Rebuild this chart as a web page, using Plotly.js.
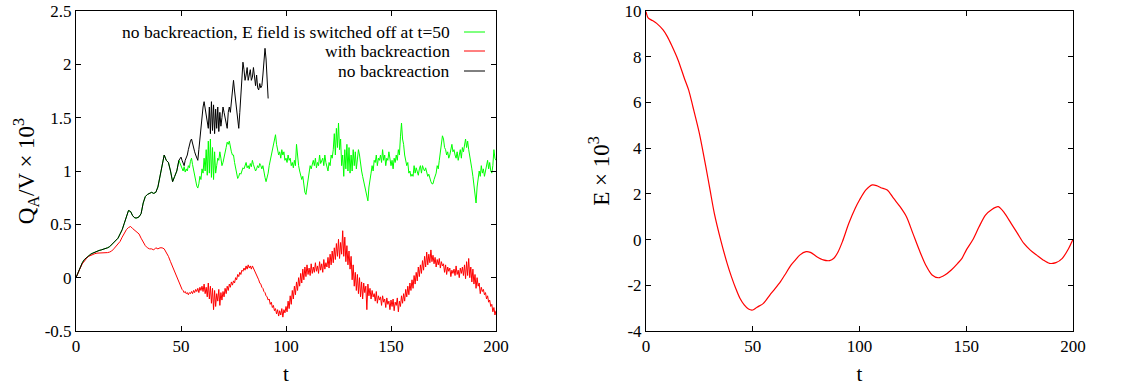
<!DOCTYPE html>
<html>
<head>
<meta charset="utf-8">
<script src="https://cdn.plot.ly/plotly-3.0.1.min.js"></script>
<style>html,body{margin:0;padding:0;background:#fff;}#chart{width:1133px;height:388px;}</style>
</head>
<body>
<div id="chart"></div>
<script>
// ---------- data ----------
// Q_A/V x 10^3, segment 1: t = 0..49 (step 1); segment 2: t = 50..200 (step 0.5)
const redA = [0,0.05,0.09,0.13,0.16,0.18,0.2,0.21,0.22,0.225,
  0.23,0.23,0.23,0.23,0.23,0.235,0.24,0.25,0.27,0.29,
  0.31,0.34,0.38,0.42,0.45,0.47,0.48,0.46,0.44,0.43,
  0.41,0.37,0.33,0.3,0.28,0.27,0.27,0.26,0.28,0.27,
  0.28,0.28,0.27,0.24,0.2,0.15,0.1,0.05,0.0,-0.05];
const redB = [-0.09,-0.11,-0.12,-0.14,-0.13,-0.15,-0.14,-0.16,-0.14,-0.15,
  -0.13,-0.15,-0.12,-0.14,-0.11,-0.13,-0.10,-0.14,-0.09,-0.12,
  -0.08,-0.13,-0.06,-0.15,-0.09,-0.18,-0.05,-0.2,-0.08,-0.24,
  -0.1,-0.3,-0.12,-0.27,-0.15,-0.22,-0.11,-0.26,-0.14,-0.21,
  -0.13,-0.18,-0.1,-0.15,-0.08,-0.12,-0.06,-0.09,-0.04,-0.07,
  -0.03,-0.05,0.0,-0.02,0.03,0.01,0.05,0.03,0.07,0.06,
  0.09,0.07,0.11,0.08,0.12,0.09,0.11,0.08,0.11,0.09,
  0.07,0.05,0.03,0.0,-0.02,-0.05,-0.06,-0.09,-0.1,-0.13,
  -0.14,-0.17,-0.18,-0.21,-0.2,-0.25,-0.23,-0.28,-0.26,-0.31,
  -0.29,-0.34,-0.3,-0.36,-0.31,-0.35,-0.29,-0.37,-0.3,-0.33,
  -0.27,-0.32,-0.22,-0.29,-0.17,-0.25,-0.12,-0.2,-0.08,-0.16,
  -0.04,-0.12,0.0,-0.08,0.04,-0.05,0.08,-0.02,0.1,0.01,
  0.12,0.03,0.09,0.02,0.13,0.04,0.1,0.05,0.14,0.06,
  0.11,0.04,0.15,0.07,0.13,0.05,0.17,0.08,0.14,0.1,
  0.19,0.09,0.22,0.12,0.25,0.14,0.28,0.17,0.32,0.2,
  0.36,0.18,0.33,0.22,0.44,0.2,0.38,0.15,0.3,0.12,
  0.25,0.08,0.2,-0.02,0.12,-0.08,0.05,-0.12,0.03,-0.15,
  0.0,-0.18,-0.04,-0.2,-0.05,-0.14,-0.08,-0.3,-0.06,-0.17,
  -0.1,-0.2,-0.12,-0.18,-0.15,-0.22,-0.13,-0.24,-0.17,-0.21,
  -0.18,-0.26,-0.17,-0.23,-0.2,-0.28,-0.19,-0.25,-0.22,-0.3,
  -0.21,-0.27,-0.2,-0.31,-0.23,-0.26,-0.19,-0.32,-0.22,-0.27,
  -0.17,-0.24,-0.15,-0.22,-0.11,-0.18,-0.08,-0.16,-0.05,-0.12,
  -0.02,-0.1,0.02,-0.06,0.05,-0.03,0.1,0.01,0.12,0.04,
  0.16,0.07,0.2,0.1,0.24,0.12,0.22,0.14,0.26,0.15,
  0.21,0.13,0.19,0.1,0.17,0.12,0.18,0.09,0.15,0.11,
  0.13,0.05,0.12,0.03,0.1,0.06,0.09,0.01,0.07,0.04,
  0.08,0.02,0.11,0.03,0.07,0.0,0.09,0.04,0.1,0.02,
  0.12,-0.01,0.15,0.02,0.18,0.0,0.1,-0.04,0.08,-0.06,
  0.03,-0.1,0.0,-0.08,-0.05,-0.15,-0.09,-0.13,-0.11,-0.16,
  -0.14,-0.2,-0.17,-0.23,-0.21,-0.27,-0.25,-0.32,-0.28,-0.35,
  -0.31];

// no backreaction: t = 0..49 (step 1), then t = 50..91.5 (step 0.5)
const blackA = [0,0.05,0.1,0.14,0.17,0.19,0.21,0.22,0.23,0.24,
  0.25,0.255,0.26,0.265,0.27,0.28,0.29,0.31,0.33,0.35,
  0.37,0.41,0.45,0.51,0.57,0.63,0.62,0.58,0.56,0.56,
  0.57,0.6,0.7,0.76,0.78,0.79,0.8,0.79,0.8,0.85,
  0.95,1.05,1.15,1.1,1.08,1.0,0.9,0.95,1.0,1.1];
const blackB = [1.13,1.1,1.08,1.05,1.1,1.12,1.15,1.2,1.25,1.28,
  1.3,1.25,1.2,1.18,1.15,1.12,1.1,1.2,1.3,1.45,
  1.55,1.6,1.65,1.58,1.5,1.45,1.4,1.6,1.35,1.65,
  1.38,1.62,1.35,1.58,1.4,1.6,1.37,1.55,1.42,1.5,
  1.6,1.55,1.5,1.45,1.4,1.55,1.6,1.55,1.65,1.75,
  1.85,1.75,1.65,1.55,1.45,1.4,1.55,1.7,1.9,2.02,
  1.95,1.85,1.9,1.97,1.85,1.92,1.95,1.85,1.88,1.97,
  1.85,1.8,1.9,1.78,1.76,1.82,1.78,1.8,1.9,2.05,
  2.15,2.05,1.85,1.68];

// E switched off at t=50: identical to blackA before t=50, then t = 50..200 (step 0.5)
const greenB = [1.05,1.03,1.0,1.04,0.99,1.02,1.0,1.05,1.03,1.09,
  1.12,1.06,1.0,0.96,0.9,0.86,0.84,0.88,0.95,0.92,
  1.02,0.98,1.12,1.0,1.2,0.96,1.28,0.98,1.3,0.94,
  1.22,0.92,1.18,0.98,1.05,1.12,1.1,1.18,1.12,1.05,
  1.08,1.12,1.18,1.22,1.27,1.25,1.28,1.22,1.18,1.15,
  1.15,1.08,1.02,0.96,0.93,0.95,0.98,0.97,1.0,1.03,
  1.02,1.06,1.08,1.03,1.05,1.02,1.07,1.04,1.1,1.06,
  1.03,1.0,1.02,1.05,1.03,1.07,1.05,1.02,1.05,0.98,
  0.94,0.9,0.93,0.98,1.05,1.1,1.12,1.18,1.25,1.3,
  1.34,1.25,1.2,1.15,1.18,1.12,1.2,1.15,1.18,1.1,
  1.12,1.08,1.15,1.1,1.12,1.05,1.08,1.03,1.1,1.05,
  1.25,1.1,1.05,1.0,0.97,0.92,0.95,0.85,0.8,0.78,
  0.85,0.9,0.98,1.05,1.02,1.08,1.1,1.05,1.12,1.03,
  1.08,1.05,1.15,1.07,1.1,1.12,1.05,1.15,1.08,1.02,
  1.0,1.08,1.05,1.15,1.12,1.2,1.35,1.15,1.4,1.22,
  1.45,1.2,1.3,1.05,1.15,0.95,1.2,1.02,1.25,1.0,
  1.22,0.98,1.15,1.0,1.2,1.05,1.18,1.02,1.12,1.2,
  1.15,1.05,1.0,0.95,0.9,0.85,0.82,0.75,0.72,0.85,
  0.9,0.98,1.05,1.0,1.1,1.08,1.15,1.05,1.12,1.1,
  1.15,1.08,1.2,1.1,1.15,1.05,1.12,1.1,1.18,1.08,
  1.05,1.1,1.02,1.12,1.08,1.15,1.1,1.2,1.15,1.32,
  1.45,1.3,1.25,1.15,1.1,1.05,1.08,0.98,1.0,0.95,
  0.97,0.95,1.05,0.98,1.03,1.0,0.96,1.02,1.05,0.98,
  1.05,1.02,1.0,1.03,0.98,0.95,0.97,0.92,0.9,0.88,
  0.88,0.92,0.95,0.98,1.05,1.02,1.1,1.2,1.28,1.33,
  1.3,1.22,1.2,1.15,1.18,1.12,1.15,1.2,1.25,1.18,
  1.2,1.15,1.12,1.18,1.1,1.15,1.2,1.12,1.22,1.18,
  1.25,1.3,1.22,1.28,1.2,1.15,1.1,1.02,0.95,0.88,
  0.8,0.7,0.85,0.92,1.0,0.95,1.05,0.98,1.02,0.95,
  1.0,1.05,1.1,1.02,1.08,1.0,0.98,1.05,1.2,1.12,
  1.1];

// E x 10^3
const eT = [0,1,3,5,8,10,12,15,18,20,22,25,28,30,32,35,38,40,42,44,46,48,50,52,55,58,60,63,65,68,
  70,72,75,77,80,83,86,88,90,92,95,98,100,103,106,108,110,113,116,119,122,125,128,131,134,137,140,143,146,148,
  150,153,156,159,162,165,168,171,174,177,180,183,186,189,192,195,198,200];
const eV = [9.97,9.7,9.58,9.46,9.17,8.88,8.5,7.86,7.05,6.54,5.8,4.65,3.2,2.17,1.15,-0.02,-1.04,-1.62,-2.13,-2.57,
  -2.86,-3.04,-3.08,-2.96,-2.79,-2.43,-2.2,-1.84,-1.55,-1.11,-0.89,-0.68,-0.53,-0.56,-0.75,-0.89,-0.92,-0.82,-0.53,-0.09,
  0.71,1.37,1.73,2.17,2.39,2.36,2.27,2.17,1.8,1.44,1.0,0.27,-0.46,-1.11,-1.55,-1.67,-1.55,-1.33,-1.04,-0.82,
  -0.46,-0.02,0.56,1.07,1.32,1.44,1.15,0.71,0.27,-0.17,-0.46,-0.68,-0.89,-1.04,-1.01,-0.82,-0.38,0.01];

const xTicks = [0,50,100,150,200];
const xTickText = ['0','50','100','150','200'];
const yTicks1 = [-0.5,0,0.5,1,1.5,2,2.5];
const yTickText1 = ['-0.5','0','0.5','1','1.5','2','2.5'];
const yTicks2 = [-4,-2,0,2,4,6,8,10];
const yTickText2 = ['-4','-2','0','2','4','6','8','10'];
const legendNames = ['no backreaction, E field is switched off at t=50','with backreaction','no backreaction'];
const colors = ['#00ff00','#ff0000','#000000'];

// ---------- build ----------
function grid(a, b, step){ const o=[]; for(let i=0;a+i*step<=b+1e-9;i++) o.push(+(a+i*step).toFixed(3)); return o; }
const tA = grid(0,49,1);
const tRed = tA.concat(grid(50,200,0.5));
const tBlack = tA.concat(grid(50,91.5,0.5));
const tGreen = tA.concat(grid(50,200,0.5));

const FONT = 'Liberation Serif, Times New Roman, serif';

const traces = [
  {x:tGreen, y:blackA.concat(greenB), type:'scatter', mode:'lines', line:{color:colors[0], width:1}, name:legendNames[0], xaxis:'x', yaxis:'y'},
  {x:tRed, y:redA.concat(redB), type:'scatter', mode:'lines', line:{color:colors[1], width:1}, name:legendNames[1], xaxis:'x', yaxis:'y'},
  {x:tBlack, y:blackA.concat(blackB), type:'scatter', mode:'lines', line:{color:colors[2], width:1}, name:legendNames[2], xaxis:'x', yaxis:'y'},
  {x:eT, y:eV, type:'scatter', mode:'lines', line:{color:'#ff0000', width:1.2, shape:'spline', smoothing:0.8}, name:'E', xaxis:'x2', yaxis:'y2'}
];

const W = 1133, H = 388;
const px = v => v / W, py = v => 1 - v / H;

const axBase = {
  showline:true, linecolor:'#000', linewidth:1, mirror:'allticks',
  ticks:'inside', ticklen:5, tickcolor:'#000', tickwidth:1,
  showgrid:false, zeroline:false, tickmode:'array',
  tickfont:{family:FONT, size:17, color:'#000'}
};

const layout = {
  width:W, height:H, margin:{l:0,r:0,t:0,b:0},
  paper_bgcolor:'#fff', plot_bgcolor:'#fff', showlegend:false,
  font:{family:FONT, color:'#000'},
  xaxis: Object.assign({}, axBase, {domain:[px(76),px(496)], range:[0,200], tickvals:xTicks, ticktext:xTickText, anchor:'y',
    title:{text:'t', font:{family:FONT, size:21, color:'#000'}, standoff:10}}),
  yaxis: Object.assign({}, axBase, {domain:[1-331/H, 1-11/H], range:[-0.5,2.5], tickvals:yTicks1, ticktext:yTickText1, anchor:'x',
    title:{text:'Q<sub>A</sub>/V × 10<sup>3</sup>', font:{family:FONT, size:23, color:'#000'}, standoff:3}}),
  xaxis2: Object.assign({}, axBase, {domain:[px(646),px(1073)], range:[0,200], tickvals:xTicks, ticktext:xTickText, anchor:'y2',
    title:{text:'t', font:{family:FONT, size:21, color:'#000'}, standoff:10}}),
  yaxis2: Object.assign({}, axBase, {domain:[1-331/H, 1-11/H], range:[-4,10], tickvals:yTicks2, ticktext:yTickText2, anchor:'x2',
    title:{text:'E × 10<sup>3</sup>', font:{family:FONT, size:23, color:'#000'}, standoff:8}}),
  annotations: [32,51,71].map((yy,i)=>({xref:'paper', yref:'paper', x:px(452), y:py(yy), xanchor:'right', yanchor:'middle',
    text:legendNames[i], showarrow:false, font:{family:FONT, size:17.5, color:'#000'}})),
  shapes: [32,51,71].map((yy,i)=>({type:'line', xref:'paper', yref:'paper', x0:px(464), x1:px(485), y0:py(yy), y1:py(yy),
    line:{color:colors[i], width:1}}))
};

Plotly.newPlot('chart', traces, layout, {staticPlot:true, displayModeBar:false});
</script>
</body>
</html>
